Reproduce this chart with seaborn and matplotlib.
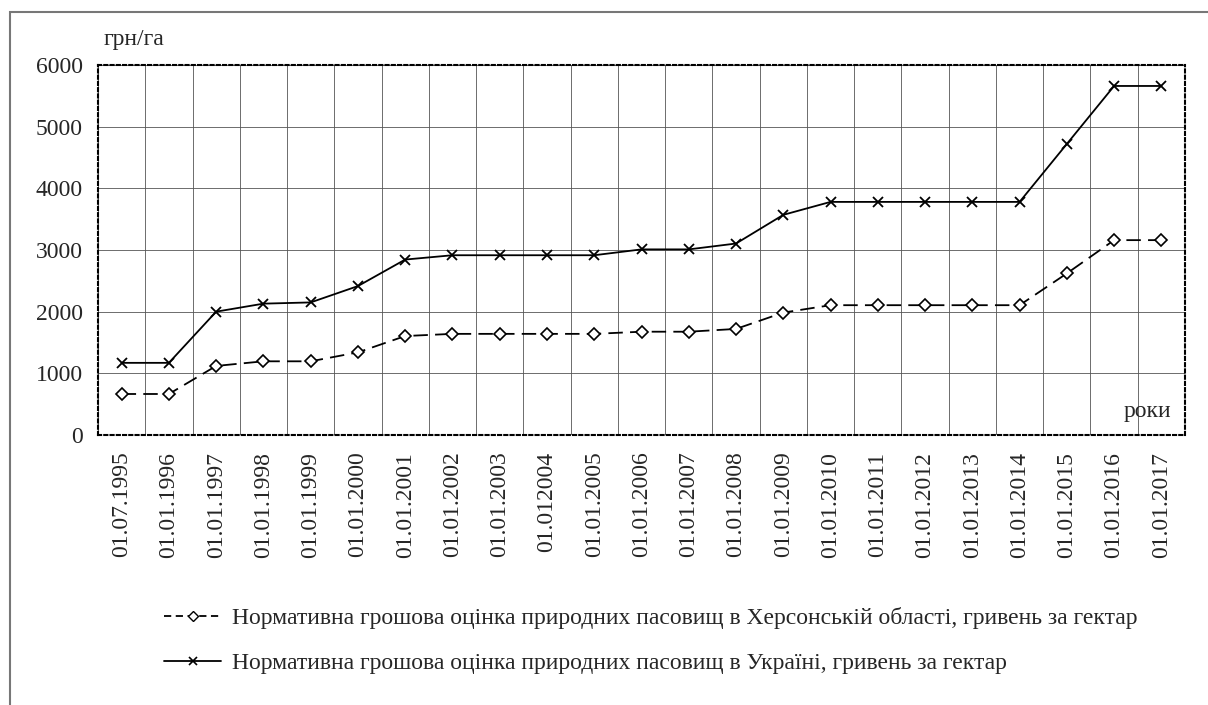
import pandas as pd
import matplotlib.pyplot as plt
import matplotlib.patches as mpatches
import seaborn as sns

# -------------------------
# DATA
# -------------------------
dates = ["01.07.1995", "01.01.1996", "01.01.1997", "01.01.1998", "01.01.1999",
         "01.01.2000", "01.01.2001", "01.01.2002", "01.01.2003", "01.012004",
         "01.01.2005", "01.01.2006", "01.01.2007", "01.01.2008", "01.01.2009",
         "01.01.2010", "01.01.2011", "01.01.2012", "01.01.2013", "01.01.2014",
         "01.01.2015", "01.01.2016", "01.01.2017"]
kherson = [665, 665, 1120, 1195, 1195, 1340, 1605, 1640, 1640, 1640,
           1640, 1675, 1675, 1720, 1985, 2105, 2105, 2105, 2105, 2105,
           2620, 3160, 3160]
ukraine = [1170, 1170, 2000, 2130, 2150, 2415, 2845, 2915, 2915, 2915,
           2915, 3010, 3010, 3105, 3570, 3780, 3780, 3780, 3780, 3780,
           4720, 5660, 5660]
label_kherson = "Нормативна грошова оцінка природних пасовищ в Херсонській області, гривень за гектар"
label_ukraine = "Нормативна грошова оцінка природних пасовищ в Україні, гривень за гектар"
y_ticks = [0, 1000, 2000, 3000, 4000, 5000, 6000]

df = pd.DataFrame({"date": dates, "kherson": kherson, "ukraine": ukraine})

# -------------------------
# STYLE
# -------------------------
sns.set_style("white")
plt.rcParams['font.family'] = ['Liberation Serif', 'DejaVu Serif']
plt.rcParams['font.size'] = 17

fig = plt.figure(figsize=(12.08, 7.05), dpi=100)
ax = fig.add_axes([98 / 1208, 1 - 435 / 705, (1185 - 98) / 1208, (435 - 65) / 705])

# outer frame
fig.patches.append(mpatches.Rectangle((10 / 1208, -0.1), 1.2, 1 - 12 / 705 + 0.1,
                                      transform=fig.transFigure, fill=False,
                                      edgecolor="#777777", linewidth=1.5))

sns.lineplot(data=df, x="date", y="ukraine", ax=ax, color="black", linewidth=1.3,
             marker="x", markersize=7, markeredgewidth=1.3,
             markeredgecolor="black", sort=False)
sns.lineplot(data=df, x="date", y="kherson", ax=ax, color="black", linewidth=1.3,
             linestyle=(0, (8, 4)), marker="D", markersize=6,
             markerfacecolor="white", markeredgecolor="black", markeredgewidth=1.2,
             sort=False)

n = len(dates)
ax.set_xlim(-0.5, n - 0.5)
ax.set_ylim(0, 6000)
ax.set_yticks(y_ticks)
ax.set_xticks(range(n))
ax.set_xticklabels(dates, rotation=90)
ax.set_xticks([i - 0.5 for i in range(n + 1)], minor=True)
ax.tick_params(axis="x", which="major", length=0, pad=12)
ax.tick_params(axis="x", which="minor", length=6, width=1, color="black", direction="out")
ax.tick_params(axis="y", length=7, width=1, color="black", direction="out", pad=4)
ax.grid(True, which="minor", axis="x", color="#555555", linewidth=0.6)
ax.grid(True, which="major", axis="y", color="#555555", linewidth=0.6)
ax.set_xlabel("")
ax.set_ylabel("")
for s in ax.spines.values():
    s.set_linestyle((0, (1.5, 1.5)))
    s.set_linewidth(1.5)
    s.set_color("black")

ax.text(0.005, 1.04, "грн/га", transform=ax.transAxes, ha="left", va="bottom", fontsize=17)
ax.text(0.987, 0.035, "роки", transform=ax.transAxes, ha="right", va="bottom", fontsize=17)

# legend
h1 = plt.Line2D([], [], color="black", linestyle=(0, (4, 2.5)), linewidth=1.3,
                marker="D", markersize=5.5, markerfacecolor="white", markeredgecolor="black")
h2 = plt.Line2D([], [], color="black", linestyle="-", linewidth=1.3,
                marker="x", markersize=6, markeredgewidth=1.2, markeredgecolor="black")
fig.legend([h1, h2], [label_kherson, label_ukraine], loc="upper left",
           bbox_to_anchor=(143 / 1208, 1 - 586 / 705), frameon=False,
           handlelength=2.4, handletextpad=0.45, numpoints=1, labelspacing=1.0,
           fontsize=17)

fig.savefig("out.png", dpi=100)
